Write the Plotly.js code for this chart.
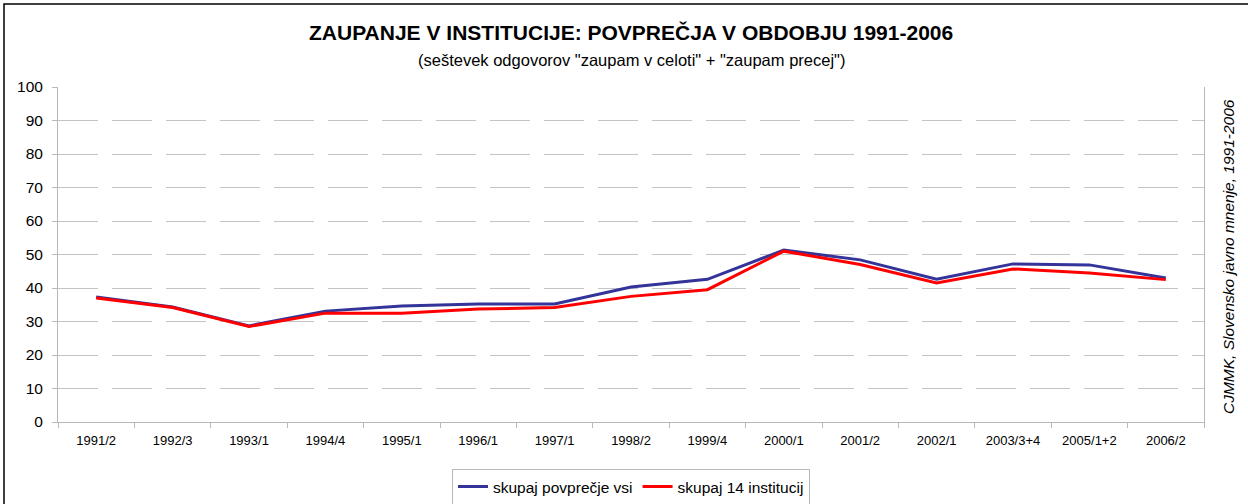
<!DOCTYPE html>
<html>
<head>
<meta charset="utf-8">
<script src="https://cdn.plot.ly/plotly-3.0.1.min.js"></script>
<style>
html,body{margin:0;padding:0;background:#fff;}
#chart{width:1248px;height:504px;}
</style>
</head>
<body>
<div id="chart"></div>
<script>
const categories = ["1991/2","1992/3","1993/1","1994/4","1995/1","1996/1","1997/1","1998/2","1999/4","2000/1","2001/2","2002/1","2003/3+4","2005/1+2","2006/2"];
const skupajVsi = [37.3, 34.3, 28.7, 33.1, 34.6, 35.2, 35.2, 40.3, 42.6, 51.3, 48.4, 42.6, 47.2, 46.9, 43.0];
const skupaj14 = [37.0, 34.2, 28.5, 32.5, 32.5, 33.7, 34.2, 37.5, 39.5, 51.0, 47.0, 41.5, 45.7, 44.5, 42.5];
const yTicks = [0,10,20,30,40,50,60,70,80,90,100];

const font = "Liberation Sans, Arial, sans-serif";

const traces = [
  {x: categories, y: skupajVsi, type: 'scatter', mode: 'lines', name: 'skupaj povprečje vsi',
   line: {color: '#333399', width: 3}},
  {x: categories, y: skupaj14, type: 'scatter', mode: 'lines', name: 'skupaj 14 institucij',
   line: {color: '#ff0000', width: 3}}
];

const layout = {
  width: 1248, height: 504,
  margin: {l: 58, r: 44, t: 87, b: 82, autoexpand: false},
  paper_bgcolor: '#ffffff', plot_bgcolor: '#ffffff',
  font: {family: font, color: '#000'},
  showlegend: true,
  xaxis: {
    type: 'category', range: [-0.5, 14.5],
    showline: true, linecolor: '#b8b8b8', linewidth: 1,
    ticks: 'outside', tickson: 'boundaries', ticklen: 5, tickcolor: '#b8b8b8',
    ticklabelstandoff: 6,
    tickfont: {size: 13, family: font}, automargin: false,
    showgrid: false, zeroline: false, fixedrange: true
  },
  yaxis: {
    range: [0, 100], tickvals: yTicks, ticktext: yTicks.map(String),
    showline: true, linecolor: '#b8b8b8', linewidth: 1, mirror: true,
    ticks: 'outside', ticklen: 5, tickcolor: '#b8b8b8',
    ticklabelstandoff: 6, automargin: false,
    tickfont: {size: 15.5, family: font},
    showgrid: true, gridcolor: '#c4c4c4', gridwidth: 1, griddash: '40px,14px',
    zeroline: false, fixedrange: true
  },
  legend: {
    orientation: 'h', x: 0.5, xanchor: 'center', y: -0.14, yanchor: 'top',
    bordercolor: '#b8b8b8', borderwidth: 1, bgcolor: '#fff',
    font: {size: 15.5, family: font}, itemwidth: 30, tracegroupgap: 0
  },
  annotations: [
    {text: '<b>ZAUPANJE V INSTITUCIJE: POVPREČJA V OBDOBJU 1991-2006</b>',
     xref: 'paper', yref: 'paper', x: 0.5, y: (422-33)/335, xanchor: 'center', yanchor: 'middle',
     showarrow: false, font: {size: 21, family: font}},
    {text: '(seštevek odgovorov "zaupam v celoti" + "zaupam precej")',
     xref: 'paper', yref: 'paper', x: 0.5, y: (422-60)/335, xanchor: 'center', yanchor: 'middle',
     showarrow: false, font: {size: 16.5, family: font}},
    {text: 'CJMMK, Slovensko javno mnenje, 1991-2006',
     xref: 'paper', yref: 'paper', x: (1228-58)/1146, y: (422-257)/335, xanchor: 'center', yanchor: 'middle',
     textangle: -90, showarrow: false, font: {size: 15.5, family: font, style: 'italic'}}
  ],
  shapes: [
    {type: 'rect', xref: 'paper', yref: 'paper',
     x0: (4-58)/1146, x1: (1270-58)/1146, y0: (422-530)/335, y1: (422-4)/335,
     line: {color: '#000', width: 1.5}, fillcolor: 'rgba(0,0,0,0)', layer: 'below'}
  ]
};

Plotly.newPlot('chart', traces, layout, {displayModeBar: false, staticPlot: true});
</script>
</body>
</html>
